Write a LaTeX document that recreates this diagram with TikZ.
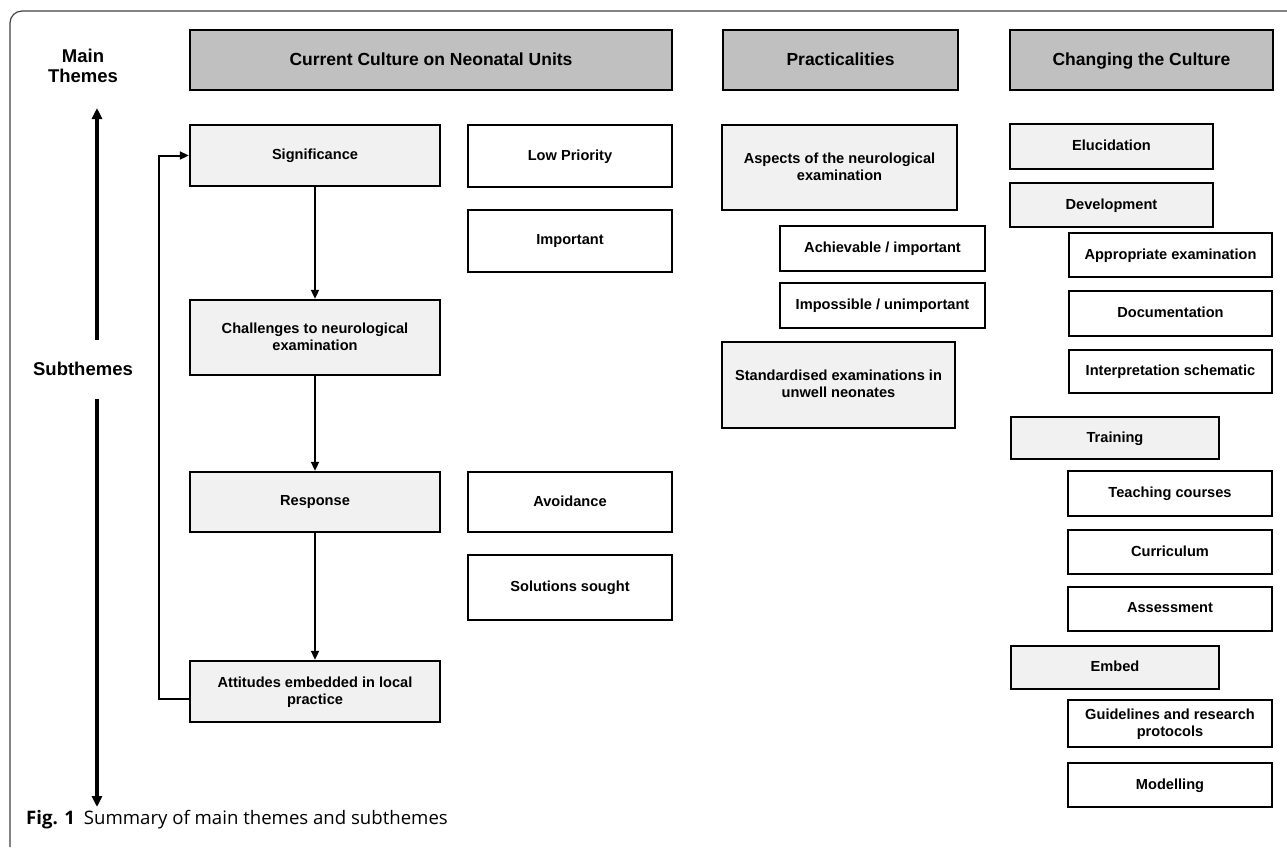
\documentclass[tikz,border=0pt]{standalone}
\usepackage{fontspec}
\setmainfont{Liberation Sans}
\newfontfamily\capfont{Open Sans}
\usetikzlibrary{arrows.meta}

\newlength{\du}
\setlength{\du}{1pt}

\definecolor{headgray}{rgb}{0.753, 0.753, 0.753}
\definecolor{themegray}{rgb}{0.945, 0.945, 0.945}
\definecolor{framegray}{rgb}{0.250, 0.250, 0.250}

\tikzset{
  headbox/.style={draw, line width=2.6\du, fill=headgray, minimum height=60\du,
    font=\bfseries\fontsize{17.5}{20}\selectfont},
  themebox/.style={draw, line width=2.4\du, fill=themegray},
  leafbox/.style={draw, line width=2.4\du, fill=white},
  flowarrow/.style={line width=2\du, -{Triangle[length=9pt,width=8pt]}},
  axisarrow/.style={line width=3.2\du, -{Triangle[length=11pt,width=10pt]}}
}

\begin{document}
\begin{tikzpicture}[x=1\du, y=-1\du,
  every node/.style={align=center, inner sep=0pt, text depth=0.22em,
    font=\bfseries\fontsize{14.6}{17}\selectfont}]
\useasboundingbox (0,0) rectangle (1287,847);

% frame
\draw[framegray, line width=1.2\du, rounded corners=12\du] (10,847) -- (10,11) -- (1287,11);

% axis
\node[font=\bfseries\fontsize{18.5}{20}\selectfont] (mainl) at (83,67) {Main\\Themes};
\node[font=\bfseries\fontsize{18.5}{20}\selectfont] (subl) at (83,370) {Subthemes};
\coordinate (upbase) at (97,340);
\coordinate (uptip) at (97,108);
\coordinate (downbase) at (97,399);
\coordinate (downtip) at (97,807);
\draw[axisarrow] (upbase) -- (uptip);
\draw[axisarrow] (downbase) -- (downtip);

% main themes
\node[headbox, minimum width=482\du] (hcur) at (431,60) {Current Culture on Neonatal Units};
\node[headbox, minimum width=235\du] (hprac) at (840.5,60) {Practicalities};
\node[headbox, minimum width=263\du] (hchg) at (1141.5,60) {Changing the Culture};

% current culture
\node[themebox, minimum width=250\du, minimum height=61\du] (sig) at (315,155.5) {Significance};
\node[leafbox, minimum width=204\du, minimum height=62\du] (low) at (570,156) {Low Priority};
\node[leafbox, minimum width=204\du, minimum height=62\du] (imp) at (570,241) {Important};
\node[themebox, minimum width=250\du, minimum height=75\du] (chal) at (315,337.5) {Challenges to neurological\\examination};
\node[themebox, minimum width=250\du, minimum height=60\du] (resp) at (315,502) {Response};
\node[leafbox, minimum width=204\du, minimum height=60\du] (avoid) at (570,502) {Avoidance};
\node[leafbox, minimum width=204\du, minimum height=65\du] (sol) at (570,587.5) {Solutions sought};
\node[themebox, minimum width=250\du, minimum height=61\du] (att) at (315,691.5) {Attitudes embedded in local\\practice};

\draw[flowarrow] (sig.south) -- (chal.north);
\draw[flowarrow] (chal.south) -- (resp.north);
\draw[flowarrow] (resp.south) -- (att.north);
\draw[flowarrow] ([yshift=-7\du]att.west) -- ++(-30,0) |- (sig.west);

% practicalities
\node[themebox, minimum width=235\du, minimum height=85\du] (asp) at (839.5,167.5) {Aspects of the neurological\\examination};
\node[leafbox, minimum width=205\du, minimum height=45\du] (ach) at (882.5,248.5) {Achievable / important};
\node[leafbox, minimum width=205\du, minimum height=45\du] (impo) at (882.5,305.5) {Impossible / unimportant};
\node[themebox, minimum width=233\du, minimum height=86\du] (std) at (838.5,385) {Standardised examinations in\\unwell neonates};

% changing the culture
\node[themebox, minimum width=203\du, minimum height=45\du] (eluc) at (1111.5,146.5) {Elucidation};
\node[themebox, minimum width=203\du, minimum height=44\du] (dev) at (1111.5,205) {Development};
\node[leafbox, minimum width=203\du, minimum height=44\du] (appr) at (1170.5,255) {Appropriate examination};
\node[leafbox, minimum width=203\du, minimum height=45\du] (docu) at (1170.5,313.5) {Documentation};
\node[leafbox, minimum width=203\du, minimum height=43\du] (interp) at (1170.5,371.5) {Interpretation schematic};
\node[themebox, minimum width=208\du, minimum height=42\du] (train) at (1115,438) {Training};
\node[leafbox, minimum width=204\du, minimum height=45\du] (teach) at (1170,493.5) {Teaching courses};
\node[leafbox, minimum width=204\du, minimum height=44\du] (curr) at (1170,552) {Curriculum};
\node[leafbox, minimum width=204\du, minimum height=44\du] (assess) at (1170,609) {Assessment};
\node[themebox, minimum width=208\du, minimum height=43\du] (embed) at (1115,667.5) {Embed};
\node[leafbox, minimum width=204\du, minimum height=47\du] (guide) at (1170,723.5) {Guidelines and research\\protocols};
\node[leafbox, minimum width=204\du, minimum height=44\du] (model) at (1170,785) {Modelling};

% caption
\node[anchor=west, font=\capfont\fontsize{18.6}{21}\selectfont] (cap) at (26,818) {\textbf{Fig. 1}\hspace{9\du}Summary of main themes and subthemes};
\end{tikzpicture}
\end{document}
